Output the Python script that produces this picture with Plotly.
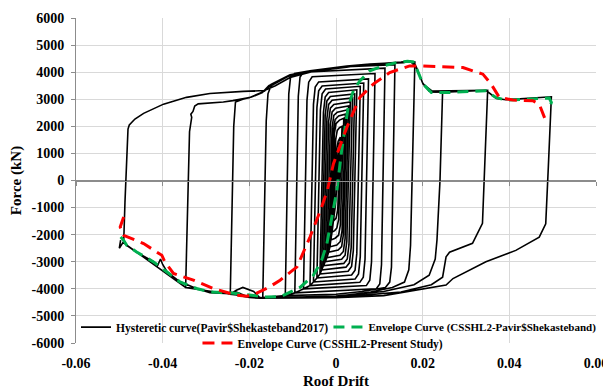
import plotly.graph_objects as go

# ---------------- Envelope curves ----------------
env_green_drift = [-0.0497, -0.0490, -0.0483, -0.0460, -0.0421, -0.0390, -0.0360, -0.0322, -0.0291,
                   -0.0245, -0.0199, -0.0161, -0.0129, -0.0083, -0.0052, -0.0033, -0.0021, -0.0010,
                   0.0002, 0.0013, 0.0021, 0.0028, 0.0040, 0.0055, 0.0078, 0.0109, 0.0140, 0.0165,
                   0.0178, 0.0185, 0.0201, 0.0220, 0.0262, 0.0346, 0.0369, 0.0392, 0.0492, 0.0497, 0.0492]
env_green_force = [-2086, -2208, -2392, -2638, -3006, -3374, -3742, -3987, -4110,
                   -4146, -4232, -4300, -4294, -3950, -3496, -2944, -2330, -1350,
                   -368, 1104, 2000, 2700, 3312, 3680, 4048, 4232, 4355, 4400,
                   4380, 4170, 3558, 3250, 3250, 3312, 3066, 2969, 3042, 2883, 2638]

env_red_drift = [-0.0490, -0.0498, -0.0490, -0.0444, -0.0402, -0.0395, -0.0375, -0.0329, -0.0283,
                 -0.0230, -0.0205, -0.0184, -0.0153, -0.0129, -0.0090, -0.0060, -0.0037, -0.0020,
                 -0.0006, 0.0025, 0.0055, 0.0086, 0.0124, 0.0170, 0.0201, 0.0293, 0.0339, 0.0358,
                 0.0377, 0.0408, 0.0454, 0.0469, 0.0484]
env_red_force = [-1350, -1718, -2024, -2330, -2760, -3006, -3434, -3680, -3987,
                 -4232, -4269, -4170, -3926, -3680, -3190, -2086, -1150, -368,
                 613, 1962, 3066, 3558, 3987, 4232, 4232, 4170, 3926, 3558,
                 3066, 2969, 2944, 2822, 2208]

# ---------------- Hysteretic curve (cycle by cycle) ----------------
cyc00_drift = [0.0000, 0.0004, 0.0008, 0.0004, -0.0002, -0.0006]
cyc00_force = [0, 900, 1400, 200, -1000, -1500]

cyc01_drift = [-0.0006, 0.0001, 0.0005, 0.0010, 0.0004, 0.0000, -0.0006]
cyc01_force = [-1500, 1100, 1450, 1600, -1100, -1400, -1500]

cyc02_drift = [-0.0009, -0.0001, 0.0003, 0.0008, 0.0014, 0.0006, 0.0002, -0.0003, -0.0009]
cyc02_force = [-1900, 1500, 1850, 1950, 2000, -1450, -1750, -1850, -1900]

cyc03_drift = [-0.0012, -0.0004, 0.0000, 0.0008, 0.0018, 0.0010, 0.0006, -0.0002, -0.0012]
cyc03_force = [-2200, 1700, 2100, 2230, 2300, -1650, -2020, -2130, -2200]

cyc04_drift = [-0.0014, -0.0006, -0.0002, 0.0006, 0.0022, 0.0014, 0.0010, 0.0002, -0.0014]
cyc04_force = [-2450, 1850, 2250, 2380, 2450, -1850, -2250, -2380, -2450]

cyc05_drift = [-0.0017, -0.0009, -0.0005, 0.0003, 0.0025, 0.0017, 0.0013, 0.0005, -0.0017]
cyc05_force = [-2650, 1950, 2400, 2520, 2600, -2000, -2440, -2570, -2650]

cyc06_drift = [-0.0021, -0.0013, -0.0009, -0.0001, 0.0029, 0.0021, 0.0017, 0.0009, -0.0021]
cyc06_force = [-2850, 2060, 2530, 2670, 2750, -2140, -2620, -2760, -2850]

cyc07_drift = [-0.0025, -0.0017, -0.0013, -0.0005, 0.0033, 0.0025, 0.0021, 0.0013, -0.0025]
cyc07_force = [-3000, 2180, 2670, 2810, 2900, -2250, -2760, -2910, -3000]

cyc08_drift = [-0.0029, -0.0021, -0.0017, -0.0009, 0.0038, 0.0030, 0.0026, 0.0018, -0.0029]
cyc08_force = [-3150, 2290, 2810, 2960, 3050, -2360, -2900, -3060, -3150]

cyc09_drift = [-0.0033, -0.0025, -0.0021, -0.0013, 0.0043, 0.0035, 0.0031, 0.0023, -0.0033]
cyc09_force = [-3300, 2400, 2940, 3100, 3200, -2480, -3040, -3200, -3300]

cyc10_drift = [-0.0037, -0.0029, -0.0025, -0.0017, 0.0048, 0.0040, 0.0036, 0.0028, -0.0037]
cyc10_force = [-3450, 2510, 3080, 3250, 3350, -2590, -3170, -3350, -3450]

cyc11_drift = [-0.0044, -0.0036, -0.0032, -0.0024, 0.0056, 0.0048, 0.0044, 0.0036, -0.0044]
cyc11_force = [-3600, 2610, 3200, 3380, 3480, -2700, -3310, -3490, -3600]

cyc12_drift = [-0.0052, -0.0044, -0.0040, -0.0032, 0.0064, 0.0056, 0.0052, 0.0044, -0.0052]
cyc12_force = [-3750, 2700, 3310, 3490, 3600, -2810, -3450, -3640, -3750]

cyc13_drift = [-0.0060, -0.0052, -0.0048, -0.0040, 0.0075, 0.0067, 0.0063, 0.0055, -0.0060]
cyc13_force = [-3880, 2810, 3450, 3640, 3750, -2910, -3570, -3760, -3880]

cyc14_drift = [-0.0075, -0.0067, -0.0063, -0.0055, 0.0090, 0.0082, 0.0078, 0.0070, -0.0075]
cyc14_force = [-4000, 2960, 3630, 3830, 3950, -3000, -3680, -3880, -4000]

cyc15_drift = [-0.0095, -0.0087, -0.0083, -0.0075, 0.0113, 0.0105, 0.0101, 0.0093, -0.0095]
cyc15_force = [-4150, 3110, 3820, 4000, 4150, -3110, -3820, -4000, -4150]

cyc16_drift = [-0.0117, -0.0109, -0.0105, -0.0096, -0.0060, 0.0025, 0.0136,
               0.0128, 0.0124, 0.0114, 0.0060, 0.0000, -0.0117]
cyc16_force = [-4250, 3200, 3800, 3950, 4050, 4200, 4280,
               -3200, -3750, -3950, -4100, -4200, -4250]

cyc17_drift = [-0.0169, -0.0165, -0.0161, -0.0157, -0.0150, -0.0106, -0.0060, 0.0025, 0.0078, 0.0155,
               0.0172, 0.0182, 0.0177, 0.0172, 0.0168, 0.0158, 0.0130, 0.0080, 0.0000, -0.0100, -0.0169]
cyc17_force = [-4320, -1000, 2200, 3200, 3500, 3880, 4050, 4230, 4300, 4350,
               4400, 4380, 1000, -2400, -3300, -3750, -3950, -4120, -4280, -4320, -4330]

cyc18_drift = [-0.0244, -0.0240, -0.0236, -0.0232, -0.0215, -0.0195, -0.0170, -0.0155, -0.0110,
               -0.0060, 0.0025, 0.0080, 0.0150, 0.0172, 0.0185, 0.0200, 0.0215, 0.0246,
               0.0240, 0.0233, 0.0229, 0.0215, 0.0180, 0.0110, 0.0000, -0.0100, -0.0175,
               -0.0190, -0.0215, -0.0230, -0.0244]
cyc18_force = [-4200, -1000, 2000, 2900, 3000, 3080, 3250, 3500, 3850,
               4020, 4200, 4290, 4370, 4410, 4200, 3600, 3300, 3280,
               0, -2200, -2900, -3500, -3850, -4100, -4270, -4320, -4340,
               -4100, -3950, -4050, -4200]

cyc19_drift = [-0.0347, -0.0343, -0.0338, -0.0333, -0.0335, -0.0330, -0.0326, -0.0318, -0.0291,
               -0.0260, -0.0238, -0.0200, -0.0165, -0.0150, -0.0106, -0.0060, 0.0025, 0.0078,
               0.0155, 0.0172, 0.0186, 0.0201, 0.0220, 0.0262, 0.0350,
               0.0343, 0.0338, 0.0315, 0.0262, 0.0254, 0.0246, 0.0220, 0.0150, 0.0050,
               -0.0050, -0.0175, -0.0205, -0.0230, -0.0250, -0.0291, -0.0320, -0.0347]
cyc19_force = [-3950, -1000, 1800, 2330, 2450, 2550, 2750, 2830, 2850,
               2900, 2950, 3060, 3300, 3550, 3900, 4040, 4220, 4300,
               4360, 4400, 4150, 3560, 3260, 3270, 3330,
               0, -1580, -2320, -2650, -2820, -3570, -3850, -4120, -4250,
               -4310, -4340, -4280, -4120, -4150, -4130, -3990, -3950]

cyc20_drift = [-0.0490, -0.0487, -0.0483, -0.0480, -0.0477, -0.0464, -0.0444, -0.0398, -0.0345,
               -0.0291, -0.0214, -0.0165, -0.0140, -0.0106, -0.0060, 0.0025, 0.0078, 0.0155,
               0.0170, 0.0182, 0.0201, 0.0222, 0.0346, 0.0370, 0.0392, 0.0497,
               0.0490, 0.0484, 0.0469, 0.0415, 0.0346, 0.0270, 0.0254, 0.0185, 0.0110,
               0.0000, -0.0100, -0.0175, -0.0200, -0.0245, -0.0291, -0.0322, -0.0360,
               -0.0390, -0.0400, -0.0405, -0.0412, -0.0421, -0.0460, -0.0483, -0.0490,
               -0.0500, -0.0497]
cyc20_force = [-2300, -800, 1000, 1900, 2050, 2270, 2480, 2820, 3070,
               3210, 3290, 3320, 3500, 3800, 4000, 4200, 4290, 4350,
               4400, 4300, 3560, 3300, 3330, 3030, 2980, 3090,
               500, -1600, -2090, -2580, -3000, -3620, -3860, -4050, -4250,
               -4330, -4340, -4350, -4320, -4180, -4140, -3990, -3740,
               -3370, -3100, -2900, -3150, -3000, -2650, -2400, -2250,
               -2500, -2200]

hyst_cycles = [
    (cyc00_drift, cyc00_force), (cyc01_drift, cyc01_force), (cyc02_drift, cyc02_force),
    (cyc03_drift, cyc03_force), (cyc04_drift, cyc04_force), (cyc05_drift, cyc05_force),
    (cyc06_drift, cyc06_force), (cyc07_drift, cyc07_force), (cyc08_drift, cyc08_force),
    (cyc09_drift, cyc09_force), (cyc10_drift, cyc10_force), (cyc11_drift, cyc11_force),
    (cyc12_drift, cyc12_force), (cyc13_drift, cyc13_force), (cyc14_drift, cyc14_force),
    (cyc15_drift, cyc15_force), (cyc16_drift, cyc16_force), (cyc17_drift, cyc17_force),
    (cyc18_drift, cyc18_force), (cyc19_drift, cyc19_force), (cyc20_drift, cyc20_force),
]
hyst_drift = [v for d, f in hyst_cycles for v in d]
hyst_force = [v for d, f in hyst_cycles for v in f]

x_tickvals = [-0.06, -0.04, -0.02, 0, 0.02, 0.04, 0.06]
x_ticktext = ["-0.06", "-0.04", "-0.02", "0", "0.02", "0.04", "0.06"]
y_tickvals = [-6000, -5000, -4000, -3000, -2000, -1000, 0, 1000, 2000, 3000, 4000, 5000, 6000]
y_ticktext = ["-6000", "-5000", "-4000", "-3000", "-2000", "-1000", "0",
              "1000", "2000", "3000", "4000", "5000", "6000"]

FONT = "Liberation Serif, Times New Roman, serif"
GRID = "#D9D9D9"
AXIS = "#8C8C8C"
LEGEND_FONT = dict(family=FONT, size=11.5, color="black", weight="bold")
LEGEND_FONT_G = dict(family=FONT, size=11, color="black", weight="bold")

fig = go.Figure()
fig.add_trace(go.Scatter(
    x=hyst_drift, y=hyst_force, mode="lines", xaxis="x", yaxis="y",
    name="Hysteretic curve(Pavir$Shekasteband2017)", showlegend=True,
    line=dict(color="black", width=1.6), legend="legend"))
fig.add_trace(go.Scatter(
    x=env_green_drift, y=env_green_force, mode="lines", xaxis="x2", yaxis="y",
    name="Envelope Curve (CSSHL2-Pavir$Shekasteband)", showlegend=True,
    line=dict(color="#00B050", width=3, dash="11px,7px"), legend="legend3"))
fig.add_trace(go.Scatter(
    x=env_red_drift, y=env_red_force, mode="lines", xaxis="x2", yaxis="y",
    name="Envelope Curve (CSSHL2-Present Study)", showlegend=True,
    line=dict(color="#FF0000", width=3, dash="12px,7px"), legend="legend2"))

# page body has an 8px margin: figure is sized/margined so the plot area lands at x 76-596, y 18-343
fig.update_layout(
    width=603, height=381,
    showlegend=True,
    margin=dict(l=68, r=15, t=10, b=46, autoexpand=False),
    paper_bgcolor="white", plot_bgcolor="white",
    font=dict(family=FONT, color="black"),
    xaxis=dict(range=[-0.06, 0.06], tickvals=x_tickvals, showticklabels=False,
               showgrid=True, gridcolor=GRID, gridwidth=1, zeroline=False,
               anchor="free", position=0.5, showline=True, linecolor=AXIS,
               ticks="outside", ticklen=4, tickcolor=AXIS, automargin=False),
    xaxis2=dict(range=[-0.06, 0.06], overlaying="x", side="bottom", anchor="y",
                tickvals=x_tickvals, ticktext=x_ticktext, showgrid=False, zeroline=False,
                showline=False, ticks="", ticklabelstandoff=10, automargin=False,
                tickfont=dict(family=FONT, size=14, color="black", weight="bold"),
                title=dict(text="Roof Drift", standoff=6,
                           font=dict(family=FONT, size=15, color="black", weight="bold"))),
    yaxis=dict(range=[-6000, 6000], tickvals=y_tickvals, ticktext=y_ticktext,
               showgrid=True, gridcolor=GRID, gridwidth=1,
               zeroline=True, zerolinecolor=AXIS, zerolinewidth=1,
               showline=True, linecolor=AXIS, ticks="outside", ticklen=4, tickcolor=AXIS,
               ticklabelstandoff=4, automargin=False,
               tickfont=dict(family=FONT, size=14, color="black", weight="bold"),
               title=dict(text="Force (kN)", standoff=6,
                          font=dict(family=FONT, size=15, color="black", weight="bold"))),
    legend=dict(visible=True, orientation="h", x=0.0, y=0.049, xanchor="left", yanchor="middle",
                bgcolor="rgba(0,0,0,0)", itemwidth=30, font=LEGEND_FONT),
    legend3=dict(visible=True, orientation="h", x=0.4855, y=0.049, xanchor="left", yanchor="middle",
                 bgcolor="rgba(0,0,0,0)", itemwidth=30, font=LEGEND_FONT_G),
    legend2=dict(visible=True, orientation="h", x=0.2336, y=0.0, xanchor="left", yanchor="middle",
                 bgcolor="rgba(0,0,0,0)", itemwidth=30, font=LEGEND_FONT),
)

fig.write_html("out.html")
